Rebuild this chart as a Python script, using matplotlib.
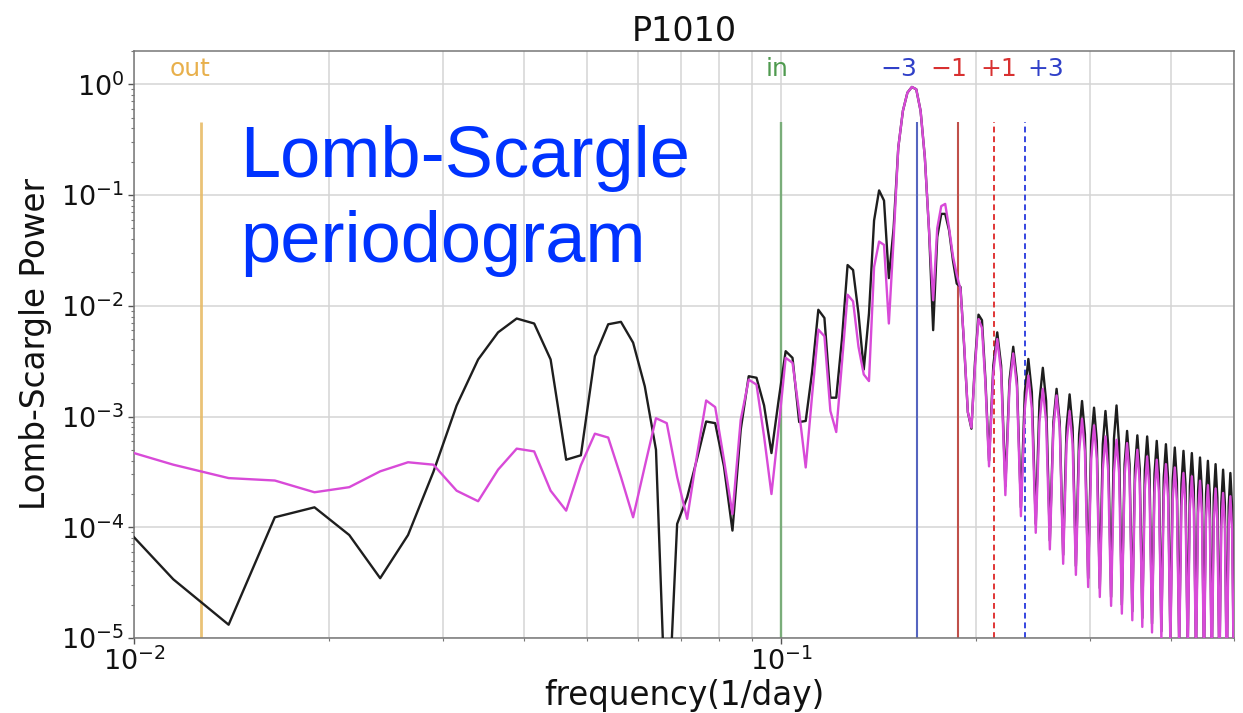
import numpy as np
import matplotlib
matplotlib.use("Agg")
import matplotlib.pyplot as plt

# ---------------- data (log10 of Lomb-Scargle power) ----------------
freq_low = [0.0100, 0.0115, 0.0140, 0.0165, 0.0190, 0.0215, 0.0240, 0.0265, 0.0290, 0.0315,
            0.0340, 0.0365, 0.0390, 0.0415, 0.0440, 0.0465, 0.0490, 0.0515, 0.0540, 0.0565,
            0.0590, 0.0615, 0.0640, 0.0665, 0.0690, 0.0715, 0.0740, 0.0765, 0.0790, 0.0815,
            0.0840, 0.0865, 0.0890, 0.0915, 0.0940, 0.0965, 0.0990, 0.1015, 0.1040, 0.1065,
            0.1090, 0.1115, 0.1140, 0.1165, 0.1190, 0.1215, 0.1240, 0.1265, 0.1290, 0.1315,
            0.1340, 0.1365, 0.1390, 0.1415, 0.1440, 0.1465, 0.1490, 0.1515, 0.1540, 0.1565,
            0.1590, 0.1615, 0.1640, 0.1665, 0.1690, 0.1715, 0.1740, 0.1765, 0.1790, 0.1815,
            0.1840, 0.1865, 0.1890, 0.1915, 0.1940, 0.1965, 0.1990, 0.2015, 0.2040, 0.2065]

black_low = [-4.09, -4.47, -4.88, -3.91, -3.82, -4.07, -4.46, -4.07, -3.50, -2.90,
             -2.485, -2.24, -2.115, -2.16, -2.485, -3.39, -3.35, -2.455, -2.167, -2.145,
             -2.333, -2.727, -3.30, -6.00, -3.97, -3.73, -3.39, -3.045, -3.06, -3.45,
             -4.03, -3.12, -2.636, -2.65, -2.90, -3.33, -2.85, -2.41, -2.47, -3.05,
             -3.04, -2.60, -2.036, -2.11, -2.83, -2.83, -2.30, -1.632, -1.677, -2.07,
             -2.575, -2.07, -1.23, -0.958, -1.05, -1.75, -1.30, -0.57, -0.24, -0.075,
             -0.024, -0.045, -0.24, -0.66, -1.32, -2.22, -1.38, -1.17, -1.17, -1.32,
             -1.59, -1.80, -1.83, -2.37, -2.96, -3.11, -2.51, -2.08, -2.13, -2.66]

magenta_low = [-3.33, -3.435, -3.556, -3.578, -3.684, -3.638, -3.495, -3.413, -3.435, -3.67,
               -3.765, -3.48, -3.29, -3.315, -3.67, -3.85, -3.44, -3.155, -3.19, -3.545,
               -3.91, -3.45, -3.015, -3.06, -3.545, -3.924, -3.36, -2.855, -2.915, -3.39,
               -3.88, -3.03, -2.667, -2.712, -3.18, -3.70, -3.10, -2.47, -2.515, -2.96,
               -3.46, -2.81, -2.215, -2.275, -2.95, -3.14, -2.51, -1.90, -1.96, -2.37,
               -2.62, -2.68, -1.65, -1.42, -1.45, -2.16, -1.40, -0.57, -0.24, -0.075,
               -0.024, -0.045, -0.24, -0.66, -1.32, -1.95, -1.30, -1.10, -1.08, -1.30,
               -1.55, -1.72, -1.85, -2.35, -2.96, -3.10, -2.55, -2.12, -2.20, -2.70]

freq_high = [0.2092,
             0.2124, 0.2154, 0.2184, 0.2217,
             0.2250, 0.2280, 0.2310, 0.2343,
             0.2376, 0.2406, 0.2436, 0.2470,
             0.2503, 0.2533, 0.2563, 0.2597,
             0.2630, 0.2660, 0.2690, 0.2723,
             0.2756, 0.2786, 0.2816, 0.2849,
             0.2882, 0.2912, 0.2942, 0.2976,
             0.3009, 0.3039, 0.3069, 0.3102,
             0.3135, 0.3165, 0.3195, 0.3229,
             0.3262, 0.3292, 0.3322, 0.3355,
             0.3388, 0.3418, 0.3448, 0.3482,
             0.3515, 0.3545, 0.3575, 0.3608,
             0.3641, 0.3671, 0.3701, 0.3735,
             0.3768, 0.3798, 0.3828, 0.3861,
             0.3894, 0.3924, 0.3954, 0.3987,
             0.4020, 0.4050, 0.4080, 0.4114,
             0.4147, 0.4177, 0.4207, 0.4240,
             0.4273, 0.4303, 0.4333, 0.4367,
             0.4400, 0.4430, 0.4460, 0.4493,
             0.4526, 0.4556, 0.4586, 0.4619,
             0.4652, 0.4682, 0.4712, 0.4746,
             0.4779, 0.4809, 0.4839, 0.4872,
             0.4905, 0.4935, 0.4965, 0.4998]

black_high = [-3.40,
              -2.54, -2.24, -2.54, -3.63,
              -2.67, -2.37, -2.67, -3.82,
              -2.78, -2.48, -2.78, -3.97,
              -2.86, -2.56, -2.86, -4.12,
              -3.05, -2.75, -3.05, -4.25,
              -3.10, -2.80, -3.10, -4.35,
              -3.16, -2.86, -3.16, -4.46,
              -3.22, -2.92, -3.22, -4.55,
              -3.25, -2.95, -3.25, -4.63,
              -3.20, -2.90, -3.25, -4.70,
              -3.43, -3.13, -3.43, -4.76,
              -3.47, -3.17, -3.47, -4.82,
              -3.48, -3.18, -3.48, -4.87,
              -3.52, -3.22, -3.52, -4.94,
              -3.55, -3.25, -3.55, -5.00,
              -3.58, -3.28, -3.58, -5.05,
              -3.61, -3.31, -3.61, -5.10,
              -3.63, -3.33, -3.63, -5.15,
              -3.67, -3.37, -3.67, -5.20,
              -3.70, -3.40, -3.70, -5.25,
              -3.73, -3.43, -3.73, -5.30,
              -3.78, -3.48, -3.78, -5.34,
              -3.81, -3.51, -3.81, -5.38]

magenta_high = [-3.45,
                -2.60, -2.30, -2.60, -3.71,
                -2.73, -2.43, -2.73, -3.90,
                -2.93, -2.63, -2.93, -4.05,
                -3.05, -2.75, -3.05, -4.20,
                -3.11, -2.81, -3.11, -4.33,
                -3.25, -2.95, -3.25, -4.43,
                -3.32, -3.02, -3.32, -4.54,
                -3.38, -3.08, -3.38, -4.63,
                -3.48, -3.18, -3.48, -4.71,
                -3.51, -3.21, -3.51, -4.78,
                -3.54, -3.24, -3.54, -4.84,
                -3.60, -3.30, -3.60, -4.90,
                -3.66, -3.36, -3.66, -4.95,
                -3.69, -3.39, -3.69, -5.02,
                -3.73, -3.43, -3.73, -5.08,
                -3.76, -3.46, -3.76, -5.13,
                -3.81, -3.51, -3.81, -5.18,
                -3.84, -3.54, -3.84, -5.23,
                -3.88, -3.58, -3.88, -5.28,
                -3.92, -3.62, -3.92, -5.33,
                -3.95, -3.65, -3.95, -5.38,
                -3.99, -3.69, -3.99, -5.42,
                -4.02, -3.72, -4.02, -5.46]

# reference frequencies (1/day)
out_freq = 0.0127
in_freq = 0.1
sideband_freqs = [0.1619, 0.1873, 0.2127, 0.2381]
sideband_labels = ["\u22123", "\u22121", "+1", "+3"]
marker_top = 0.46

# ---------------- figure ----------------
plt.rcParams["font.family"] = ["DejaVu Sans"]
fig = plt.figure(figsize=(12.43, 7.13), dpi=100)
ax = fig.add_axes([0.1078, 0.1052, 0.885, 0.8233])
ax.set_xscale("log")
ax.set_yscale("log")

freq = np.array(freq_low + freq_high)
black = 10.0 ** np.array(black_low + black_high)
magenta = 10.0 ** np.array(magenta_low + magenta_high)

grid_c = "#d4d4d4"
ax.grid(True, which="major", axis="both", color=grid_c, lw=1.1)
ax.grid(True, which="minor", axis="x", color=grid_c, lw=1.1)
ax.set_axisbelow(True)

ymin = 1e-5
ax.vlines(out_freq, ymin, marker_top, colors="#e8bc68", lw=2.0, alpha=0.9, zorder=2)
ax.vlines(in_freq, ymin, marker_top, colors="#6fa86f", lw=1.7, alpha=0.9, zorder=2)
ax.vlines(sideband_freqs[0], ymin, marker_top, colors="#5565c0", lw=1.5, zorder=2)
ax.vlines(sideband_freqs[1], ymin, marker_top, colors="#c0504a", lw=1.5, zorder=2)
ax.vlines(sideband_freqs[2], ymin, marker_top, colors="#e03535", lw=1.4,
          linestyles=(0, (3, 2)), zorder=2)
ax.vlines(sideband_freqs[3], ymin, marker_top, colors="#3545e0", lw=1.4,
          linestyles=(0, (3, 2)), zorder=2)

ax.plot(freq, black, color="#1e1e1e", lw=1.7, zorder=3)
ax.plot(freq, magenta, color="#d84ad8", lw=1.7, zorder=4)

ax.set_xlim(0.01, 0.5)
ax.set_ylim(1e-5, 2)

label_y = 1.18
ax.text(0.0122, label_y, "out", color="#e8b04c", fontsize=18, ha="center", va="baseline")
ax.text(0.0986, label_y, "in", color="#4f9a4f", fontsize=18, ha="center", va="baseline")
label_x = [0.152, 0.1816, 0.2162, 0.2555]
label_c = ["#3040c8", "#d83030", "#d83030", "#3040c8"]
for x, t, c in zip(label_x, sideband_labels, label_c):
    ax.text(x, label_y, t, color=c, fontsize=18, ha="center", va="baseline")

ax.set_title("P1010", fontsize=24, pad=7, color="#111111")
ax.set_xlabel("frequency(1/day)", fontsize=23.5, labelpad=2, color="#111111")
ax.set_ylabel("Lomb-Scargle Power", fontsize=23.5, labelpad=6, color="#111111")
ax.tick_params(axis="both", which="major", labelsize=19.5, length=4, width=1,
               color="#555555", labelcolor="#111111", pad=3)
ax.tick_params(axis="both", which="minor", length=2.5, width=0.8, color="#777777")
for s in ax.spines.values():
    s.set_color("#777777")
    s.set_linewidth(1.1)

fig.text(240 / 1243, 1 - 177 / 713, "Lomb-Scargle", color="#0033ff", fontsize=52,
         family=["Liberation Sans", "DejaVu Sans"], ha="left", va="baseline")
fig.text(240 / 1243, 1 - 262 / 713, "periodogram", color="#0033ff", fontsize=52,
         family=["Liberation Sans", "DejaVu Sans"], ha="left", va="baseline")

fig.savefig("out.png", dpi=100)
